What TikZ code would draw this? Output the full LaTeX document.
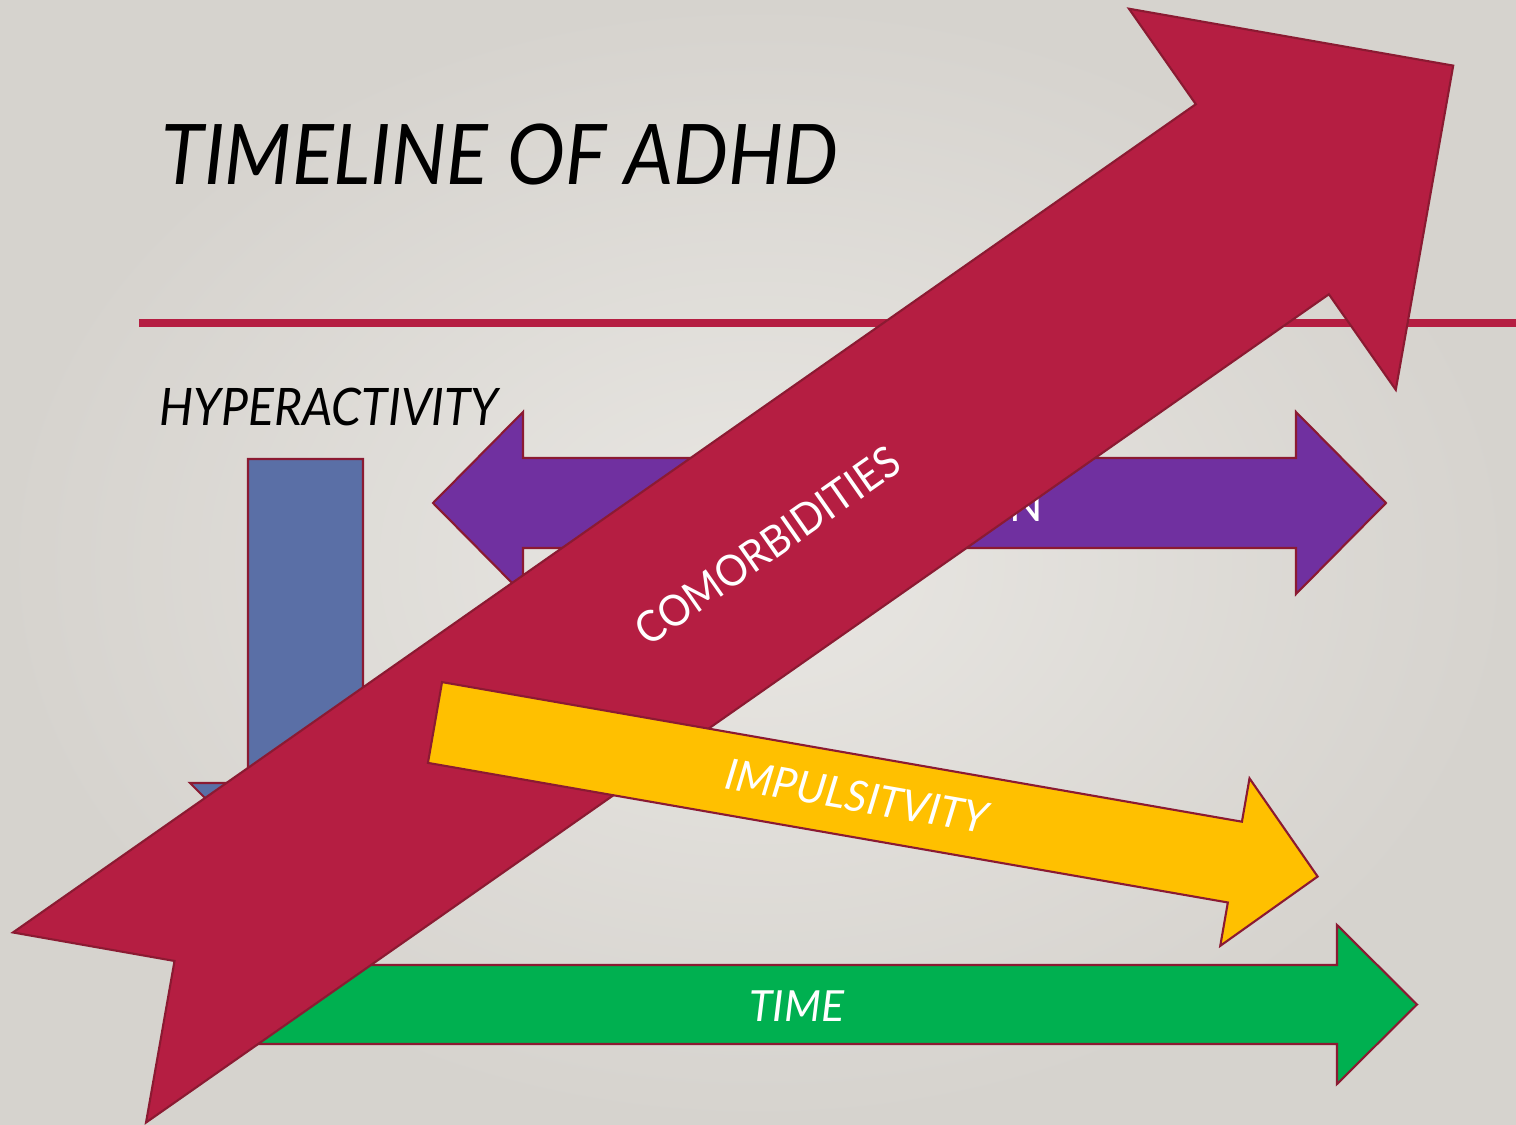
\documentclass[tikz,border=0pt]{standalone}
\usepackage{fontspec}
\setmainfont{Lato}
\newfontfamily\narrowlato[FakeStretch=0.93]{Lato}
\usepackage{xcolor}
\usetikzlibrary{positioning}

\definecolor{bgin}{RGB}{233,231,227}
\definecolor{bgout}{RGB}{214,211,206}
\definecolor{crimson}{RGB}{181,30,66}
\definecolor{edgered}{RGB}{139,26,50}
\definecolor{hyperblue}{RGB}{90,111,166}
\definecolor{inattpurple}{RGB}{112,48,160}
\definecolor{impyellow}{RGB}{255,192,0}
\definecolor{timegreen}{RGB}{0,176,80}

\begin{document}
\begin{tikzpicture}[x=0.1mm, y=-0.1mm,
  blockarrow/.style={draw=edgered, line width=0.6pt, line join=miter},
  arrowtext/.style={text=white, inner sep=0pt},
  heading/.style={font=\narrowlato\fontsize{23.8pt}{26pt}\selectfont\itshape, inner sep=0pt},
  sublabel/.style={font=\narrowlato\fontsize{14.7pt}{16pt}\selectfont\itshape, inner sep=0pt}
]
\useasboundingbox (0,0) rectangle (1516,1125);
\shade[inner color=bgin, outer color=bgout] (0,0) rectangle (1516,1125);

% title and rule
\node[heading, anchor=base west] (title) at (161,185) {TIMELINE OF ADHD};
\coordinate (ruleL) at (139,323);
\coordinate (ruleR) at (1516,323);
\draw[crimson, line width=2pt] (ruleL) -- (ruleR);

\node[sublabel, anchor=base west] (hyper) at (159,426) {HYPERACTIVITY};

% hyperactivity (down)
\draw[blockarrow, fill=hyperblue] (248,459) -- (363,459) -- (363,783) -- (421,783)
  -- (305.5,898.5) -- (190,783) -- (248,783) -- cycle;

% inattention (both ways), mostly hidden
\draw[blockarrow, fill=inattpurple] (433,503) -- (523,412) -- (523,458) -- (1296,458)
  -- (1296,412) -- (1386,503) -- (1296,594) -- (1296,548) -- (523,548) -- (523,594) -- cycle;
\node[arrowtext, font=\fontsize{12.5pt}{14pt}\selectfont, anchor=base east] (inatt) at (1044,521) {N};

% time
\draw[blockarrow, fill=timegreen] (230,965) -- (1337,965) -- (1337,925) -- (1417,1004.5)
  -- (1337,1084) -- (1337,1044) -- (230,1044) -- cycle;
\node[arrowtext, font=\fontsize{12.2pt}{13pt}\selectfont\itshape] (time) at (797,1006) {TIME};

% comorbidities
\begin{scope}[shift={(79.5,1027.5)}, rotate=35]
  \draw[blockarrow, fill=crimson] (0,-116) -- (1444,-116) -- (1444,-232.6) -- (1677,0)
    -- (1444,232.6) -- (1444,116) -- (0,116) -- (116,0) -- cycle;
  \node[arrowtext, rotate=35, font=\narrowlato\fontsize{12.3pt}{14pt}\selectfont] (comorb) at (840,0) {COMORBIDITIES};
\end{scope}

% impulsivity
\begin{scope}[shift={(435,722.5)}, rotate=-9.9]
  \draw[blockarrow, fill=impyellow] (0,-41) -- (812,-41) -- (812,-85) -- (896,0)
    -- (812,85) -- (812,41) -- (0,41) -- cycle;
  \node[arrowtext, rotate=-9.9, font=\fontsize{12.2pt}{13pt}\selectfont\itshape] (impuls) at (428,0) {IMPULSITVITY};
\end{scope}

\end{tikzpicture}
\end{document}
